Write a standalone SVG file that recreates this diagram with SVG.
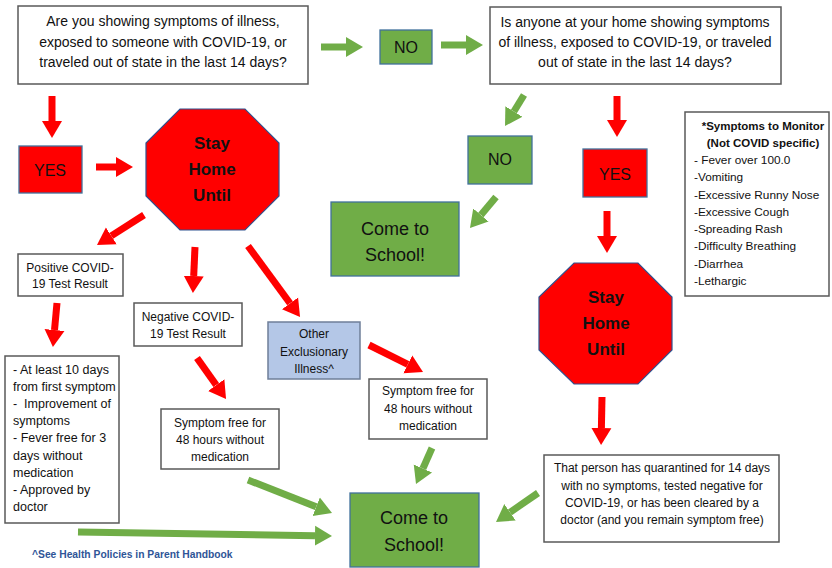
<svg xmlns="http://www.w3.org/2000/svg" width="832" height="568" viewBox="0 0 832 568">
<style>
.box{fill:#fff;stroke:#595959;stroke-width:1.5}
.gbox{fill:#70AD47;stroke:#41719C;stroke-width:1.3}
.rbox{fill:#FF0000;stroke:#41719C;stroke-width:1.3}
.bbox{fill:#B4C7E7;stroke:#6F7F99;stroke-width:1.5}
.oct{fill:#FF0000;stroke:#2F528F;stroke-width:1.2}
text{font-family:"Liberation Sans",Arial,sans-serif;fill:#111}
.t14{font-size:14px;text-anchor:middle}
.t16{font-size:16px;text-anchor:middle}
.t18{font-size:18px;text-anchor:middle}
.tb{font-size:17px;font-weight:bold;text-anchor:middle}
.t12{font-size:12px;text-anchor:middle}
.t12l{font-size:11.8px}
.t125l{font-size:12.5px}
.sb{font-size:11.5px;font-weight:bold;text-anchor:middle}
.foot{font-size:10.3px;font-weight:bold;fill:#2F5597}
.ra{stroke:#FF0000;stroke-width:7;fill:none;marker-end:url(#rh)}
.ga{stroke:#70AD47;stroke-width:7;fill:none;marker-end:url(#gh)}
</style>
<defs>
<marker id="rh" markerUnits="userSpaceOnUse" markerWidth="18" markerHeight="22" refX="0" refY="11" orient="auto" viewBox="0 0 18 22"><path d="M0,1 L17,11 L0,21 Z" fill="#FF0000"/></marker>
<marker id="gh" markerUnits="userSpaceOnUse" markerWidth="18" markerHeight="22" refX="0" refY="11" orient="auto" viewBox="0 0 18 22"><path d="M0,1 L17,11 L0,21 Z" fill="#70AD47"/></marker>
</defs>

<g id="connectors">
<path class="ga" d="M321,47 L346,47"/>
<path class="ga" d="M441,45 L466,45"/>
<path class="ga" d="M524,95 L513.9,111.5"/>
<path class="ra" d="M617,96 L617,120"/>
<path class="ga" d="M496,197 L480.9,215"/>
<path class="ra" d="M607,211 L607,236"/>
<path class="ra" d="M602,397 L601.4,428"/>
<path class="ga" d="M538,493 L510,512.3"/>
<path class="ga" d="M432,448 L422.9,468.5"/>
<path class="ra" d="M369,345 L407.8,364.4"/>
<path class="ra" d="M248,246 L290,303.3"/>
<path class="ra" d="M52,96 L52,121"/>
<path class="ra" d="M96,167 L116,167"/>
<path class="ra" d="M144,215 L111.3,235.9"/>
<path class="ra" d="M195,247 L193.7,276"/>
<path class="ra" d="M57,303 L54.5,330"/>
<path class="ra" d="M197,358 L216.2,385.1"/>
<path class="ga" d="M248,480 L316.2,506.8"/>
<path class="ga" d="M78,532 L315,535.7"/>
</g>

<g id="q1">
<rect class="box" x="18" y="6" width="290" height="78"/>
<text class="t14" x="163" y="26">Are you showing symptoms of illness,</text>
<text class="t14" x="163" y="47">exposed to someone with COVID-19, or</text>
<text class="t14" x="163" y="67">traveled out of state in the last 14 days?</text>
</g>

<g id="no1">
<rect class="gbox" x="380" y="30" width="52" height="34"/>
<text class="t16" x="406" y="53">NO</text>
</g>

<g id="q2">
<rect class="box" x="490" y="7" width="291" height="77"/>
<text class="t14" x="635" y="27">Is anyone at your home showing symptoms</text>
<text class="t14" x="635" y="47">of illness, exposed to COVID-19, or traveled</text>
<text class="t14" x="635" y="67">out of state in the last 14 days?</text>
</g>

<g id="no2">
<rect class="gbox" x="468" y="136" width="64" height="48"/>
<text class="t16" x="500" y="165">NO</text>
</g>

<g id="yes2">
<rect class="rbox" x="583" y="149" width="64" height="48"/>
<text class="t16" x="615" y="180">YES</text>
</g>

<g id="school1">
<rect class="gbox" x="331" y="202" width="128" height="74"/>
<text class="t18" x="395" y="235">Come to</text>
<text class="t18" x="395" y="261">School!</text>
</g>

<g id="symptoms">
<rect class="box" x="685" y="112" width="144" height="184"/>
<text class="sb" x="763" y="130">*Symptoms to Monitor</text>
<text class="sb" x="763" y="147">(Not COVID specific)</text>
<text class="t12l" x="694" y="164">- Fever over 100.0</text>
<text class="t12l" x="694" y="181">-Vomiting</text>
<text class="t12l" x="694" y="199">-Excessive Runny Nose</text>
<text class="t12l" x="694" y="216">-Excessive Cough</text>
<text class="t12l" x="694" y="233">-Spreading Rash</text>
<text class="t12l" x="694" y="250">-Difficulty Breathing</text>
<text class="t12l" x="694" y="268">-Diarrhea</text>
<text class="t12l" x="694" y="285">-Lethargic</text>
</g>

<g id="stay2">
<polygon class="oct" points="574,263 638,263 672,297 672,350 638,384 574,384 539,350 539,297"/>
<text class="tb" x="606" y="303">Stay</text>
<text class="tb" x="606" y="329">Home</text>
<text class="tb" x="606" y="355">Until</text>
</g>

<g id="quarantine">
<rect class="box" x="544" y="455" width="235" height="87"/>
<text class="t12" x="662" y="472">That person has quarantined for 14 days</text>
<text class="t12" x="662" y="490">with no symptoms, tested negative for</text>
<text class="t12" x="662" y="507">COVID-19, or has been cleared by a</text>
<text class="t12" x="662" y="524">doctor (and you remain symptom free)</text>
</g>

<g id="school2">
<rect class="gbox" x="350" y="493" width="129" height="74"/>
<text class="t18" x="414" y="524">Come to</text>
<text class="t18" x="414" y="551">School!</text>
</g>

<g id="yes1">
<rect class="rbox" x="19" y="146" width="63" height="47"/>
<text class="t16" x="50" y="176">YES</text>
</g>

<g id="stay1">
<polygon class="oct" points="180,109 245,109 279,143 279,196 245,230 180,230 146,196 146,143"/>
<text class="tb" x="212" y="149">Stay</text>
<text class="tb" x="212" y="175">Home</text>
<text class="tb" x="212" y="201">Until</text>
</g>

<g id="positive">
<rect class="box" x="18" y="254" width="105" height="42"/>
<text class="t12" x="70" y="272">Positive COVID-</text>
<text class="t12" x="70" y="288">19 Test Result</text>
</g>

<g id="negative">
<rect class="box" x="134" y="303" width="108" height="43"/>
<text class="t12" x="188" y="321">Negative COVID-</text>
<text class="t12" x="188" y="338">19 Test Result</text>
</g>

<g id="other">
<rect class="bbox" x="268" y="322" width="92" height="57"/>
<text class="t12" x="314" y="338">Other</text>
<text class="t12" x="314" y="356">Exclusionary</text>
<text class="t12" x="314" y="373">Illness^</text>
</g>

<g id="symfree2">
<rect class="box" x="369" y="379" width="118" height="60"/>
<text class="t12" x="428" y="395">Symptom free for</text>
<text class="t12" x="428" y="413">48 hours without</text>
<text class="t12" x="428" y="430">medication</text>
</g>

<g id="symfree1">
<rect class="box" x="161" y="409" width="118" height="60"/>
<text class="t12" x="220" y="427">Symptom free for</text>
<text class="t12" x="220" y="444">48 hours without</text>
<text class="t12" x="220" y="461">medication</text>
</g>

<g id="criteria">
<rect class="box" x="5" y="356" width="114" height="167"/>
<text class="t125l" x="13" y="374">- At least 10 days</text>
<text class="t125l" x="13" y="391">from first symptom</text>
<text class="t125l" x="13" y="408" xml:space="preserve">-  Improvement of</text>
<text class="t125l" x="13" y="425">symptoms</text>
<text class="t125l" x="13" y="442">- Fever free for 3</text>
<text class="t125l" x="13" y="460">days without</text>
<text class="t125l" x="13" y="477">medication</text>
<text class="t125l" x="13" y="494">- Approved by</text>
<text class="t125l" x="13" y="511">doctor</text>
</g>

<text class="foot" x="32" y="558">^See Health Policies in Parent Handbook</text>
</svg>
